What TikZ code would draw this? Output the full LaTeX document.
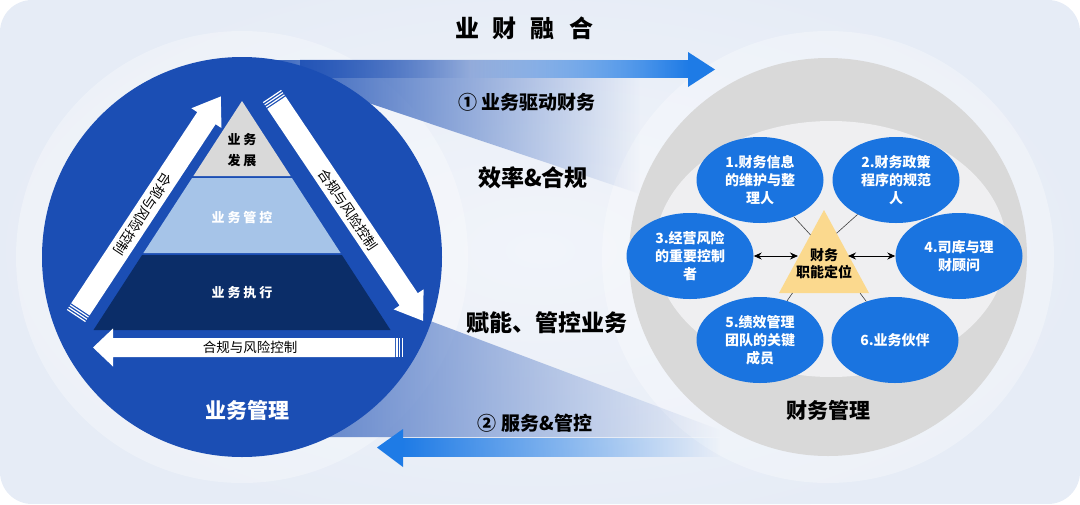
\documentclass[tikz,border=0pt]{standalone}
\usepackage{fontspec}
\setmainfont{Noto Sans CJK SC}
\usetikzlibrary{shapes.geometric,arrows.meta,calc,fadings}

\definecolor{bgblue}{HTML}{E6ECF6}
\definecolor{glow}{HTML}{F1F4FA}
\definecolor{bizblue}{HTML}{1B4EB4}
\definecolor{brightblue}{HTML}{1E7BE6}
\definecolor{dutyblue}{HTML}{1A74E0}
\definecolor{paleblue}{HTML}{A6C4E8}
\definecolor{navy}{HTML}{0B2D68}
\definecolor{ringgray}{HTML}{D9D9D9}
\definecolor{innergray}{HTML}{EFEFF1}
\definecolor{coreyellow}{HTML}{FBD98E}

\tikzset{
  duty/.style={ellipse, fill=dutyblue, text=white, align=center, inner sep=0pt,
    minimum width=127pt, minimum height=86pt, font=\fontsize{14}{18}\selectfont\bfseries},
  band/.style={font=\fontsize{23}{26}\selectfont\bfseries},
  flow/.style={font=\fontsize{19}{22}\selectfont\bfseries},
  ctrl/.style={font=\fontsize{13.5}{16}\selectfont, inner sep=0pt},
  layer/.style={font=\fontsize{13}{21}\selectfont\bfseries, align=center},
  link/.style={line width=0.6pt, black!75},
  twoway/.style={line width=1pt, {Stealth[length=8pt,width=7pt]}-{Stealth[length=8pt,width=7pt]}}
}

\begin{document}
\begin{tikzpicture}[x=1pt,y=-1pt]
\useasboundingbox (0,0) rectangle (1080,504);

% background
\begin{scope}
  \clip[rounded corners=32pt] (0,0) rectangle (1080,504);
  \fill[bgblue] (0,0) rectangle (1080,504);
  \shade[inner color=glow, outer color=bgblue] (540,250) ellipse (560 and 290);
\end{scope}
\fill[white, opacity=0.3] (242,257) circle (226);
\fill[white, opacity=0.3] (828,257) circle (226);

% bands between the two circles
\fill[bizblue!85!white, path fading=east] (300,60) -- (640,60) -- (640,194) -- (300,80) -- cycle;
\fill[bizblue!70!white, path fading=east] (300,272) -- (720,430) -- (720,437) -- (300,437) -- cycle;

% flow arrows
\fill[bizblue, path fading=east] (242,60) rectangle (470,78);
\fill[brightblue, path fading=west] (470,60) rectangle (689,78);
\fill[brightblue] (688,52) -- (715,69.5) -- (688,87) -- cycle;
\fill[brightblue, path fading=east] (402,438) rectangle (720,457);
\fill[brightblue] (403,429) -- (377,447.5) -- (403,467) -- cycle;

% business side
\fill[bizblue] (242,257) circle (200);

\fill[ringgray] (242,101) -- (290.6,176) -- (193.4,176) -- cycle;
\fill[paleblue] (192.1,178) -- (291.9,178) -- (340.6,253) -- (143.4,253) -- cycle;
\fill[navy] (142.1,255) -- (341.9,255) -- (390.5,330) -- (93.5,330) -- cycle;
\node[layer] (dev) at (242,150) {业 务\\发 展};
\node[layer, text=white] (ctl) at (242,218) {业 务 管 控};
\node[layer, text=white] (exe) at (242,293) {业 务 执 行};

% up arrow
\begin{scope}[shift={(76,316)}, rotate=56.6]
  \fill[white] (8,-11) -- (237,-11) -- (237,-18) -- (263,0) -- (237,18) -- (237,11) -- (8,11) -- cycle;
  \foreach \s in {0,2.7,5.4}
    \fill[white] (\s,-11) rectangle (\s+1.2,11);
  \node[ctrl, rotate=236.6] (upctl) at (122,0) {合规与风险控制};
\end{scope}

% down arrow
\begin{scope}[shift={(272,96)}, rotate=-56.1]
  \fill[white] (8,-11) -- (245,-11) -- (245,-18) -- (271,0) -- (245,18) -- (245,11) -- (8,11) -- cycle;
  \foreach \s in {0,2.7,5.4}
    \fill[white] (\s,-11) rectangle (\s+1.2,11);
  \node[ctrl, rotate=-56.1] (downctl) at (137,0) {合规与风险控制};
\end{scope}

% back arrow
\begin{scope}[shift={(403,347.5)}, rotate=180]
  \fill[white] (8,-9.5) -- (290,-9.5) -- (290,-19) -- (310,0) -- (290,19) -- (290,9.5) -- (8,9.5) -- cycle;
  \foreach \s in {0,2.7,5.4}
    \fill[white] (\s,-9.5) rectangle (\s+1.2,9.5);
  \node[ctrl] (backctl) at (153,0) {合规与风险控制};
\end{scope}

\node[font=\fontsize{21}{24}\selectfont\bfseries, text=white] (bizmgmt) at (247,410) {业务管理};

% finance side
\fill[ringgray] (828,257) circle (199);
\fill[innergray] (831,249) ellipse (176 and 128);

\coordinate (ta) at (824,210);
\coordinate (tl) at (779,293);
\coordinate (tr) at (869,293);
\fill[coreyellow] (ta) -- (tl) -- (tr) -- cycle;
\node[font=\fontsize{14}{17}\selectfont\bfseries, align=center] (core) at (824,264) {财务\\职能定位};

\node[duty] (e1) at (760,180) {1.财务信息\\的维护与整\\理人};
\node[duty] (e2) at (896,180) {2.财务政策\\程序的规范\\人};
\node[duty] (e3) at (690,256) {3.经营风险\\的重要控制\\者};
\node[duty] (e4) at (959,256) {4.司库与理\\财顾问};
\node[duty] (e5) at (760,340) {5.绩效管理\\团队的关键\\成员};
\node[duty] (e6) at (895,340) {6.业务伙伴};

\coordinate (cl) at (798,256);
\coordinate (cr) at (848,256);
\draw[twoway] (e3) -- (cl);
\draw[twoway] (cr) -- (e4);

\draw[link] (e1) -- ($(ta)!0.3!(tl)$);
\draw[link] (e2) -- ($(ta)!0.28!(tr)$);
\draw[link] (e5) -- ($(tl)!0.15!(tr)$);
\draw[link] (e6) -- ($(tl)!0.9!(tr)$);

\node[font=\fontsize{21}{24}\selectfont\bfseries] (finmgmt) at (828,410) {财务管理};

% labels
\node[font=\fontsize{24}{28}\selectfont\bfseries] (title) at (524,28) {业\hspace{14pt}财\hspace{14pt}融\hspace{14pt}合};
\node[flow] (drive) at (527,102) {① 业务驱动财务};
\node[band] (eff) at (533,178) {效率\&合规};
\node[band] (enable) at (547,323) {赋能、管控业务};
\node[flow] (serve) at (535,423) {② 服务\&管控};
\end{tikzpicture}
\end{document}
